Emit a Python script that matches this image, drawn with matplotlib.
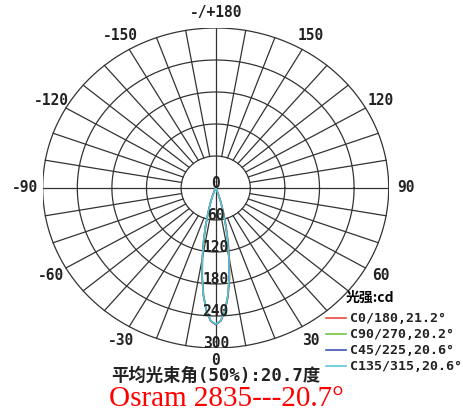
import numpy as np
import matplotlib
matplotlib.use("Agg")
import matplotlib.pyplot as plt

# gamma angles (deg, 0 = straight down) and intensity (cd) per C-plane
angles = [-32, -28, -24, -20, -18, -16, -14, -12, -10, -8, -6, -4, -2, 0,
          2, 4, 6, 8, 10, 12, 14, 16, 18, 20, 24, 28, 32]
c0_180 = [0, 2, 6, 20, 32, 50, 73, 102, 135, 170, 203, 231, 250, 256,
          250, 232, 205, 173, 138, 105, 76, 52, 34, 21, 7, 2, 0]
c90_270 = [0, 1, 5, 16, 28, 44, 67, 96, 130, 166, 201, 230, 249, 256,
           249, 230, 201, 166, 130, 96, 67, 44, 28, 16, 5, 1, 0]
c45_225 = [0, 1, 5, 18, 30, 47, 71, 100, 133, 169, 203, 231, 249, 256,
           249, 231, 203, 169, 133, 100, 71, 47, 30, 18, 5, 1, 0]
c135_315 = [0, 1, 5, 18, 31, 48, 72, 101, 134, 170, 204, 231, 249, 255,
            249, 230, 202, 168, 132, 99, 70, 46, 29, 17, 5, 1, 0]

series = [c0_180, c90_270, c45_225, c135_315]
series_labels = ["C0/180,21.2°", "C90/270,20.2°", "C45/225,20.6°", "C135/315,20.6°"]
series_colors = ["#e84a3c", "#72c448", "#3a55b0", "#5cc8d4"]

ring_values = [0, 60, 120, 180, 240, 300]
angle_ticks = [180, 150, 120, 90, 60, 30, 0, -30, -60, -90, -120, -150]
angle_labels = ["-/+180", "150", "120", "90", "60", "30", "0",
                "-30", "-60", "-90", "-120", "-150"]

R = 300
grid_c = "#333333"
mono = "DejaVu Sans Mono"

fig = plt.figure(figsize=(4.64, 4.16), dpi=100)
fig.patch.set_facecolor("white")
ax = fig.add_axes([42.7 / 464, 68 / 416, 346 / 464, 320 / 416])
ax.set_xlim(-R, R)
ax.set_ylim(-R, R)
ax.set_aspect("auto")
ax.axis("off")

# rings
t = np.linspace(0, 2 * np.pi, 400)
for rv in ring_values[1:]:
    ax.plot(rv * np.cos(t), rv * np.sin(t), color=grid_c, lw=0.9)

# spokes every 10 degrees; the four main axes go through the centre
for a in range(0, 360, 10):
    th = np.deg2rad(a)
    r0 = 0 if a % 90 == 0 else ring_values[1]
    ax.plot([r0 * np.sin(th), R * np.sin(th)], [-r0 * np.cos(th), -R * np.cos(th)],
            color=grid_c, lw=0.9)

# radial value labels going down
for rv in ring_values:
    ax.text(0, -rv + 9, str(rv), ha="center", va="center", family=mono,
            fontweight="bold", fontsize=10.5, color="#222222", zorder=5)

# angle labels
for a, lab in zip(angle_ticks, angle_labels):
    th = np.deg2rad(a)
    rr = 330
    ax.text(rr * np.sin(th), -rr * np.cos(th) + (6 if a == 0 else 0), lab,
            ha="center", va="center", family=mono, fontweight="bold",
            fontsize=10.5, color="#222222", clip_on=False)

# intensity curves
for vals, col, lab in zip(series, series_colors, series_labels):
    th = np.deg2rad(angles)
    v = np.array(vals)
    ax.plot(v * np.sin(th), -v * np.cos(th), color=col, lw=1.1, label=lab, zorder=4)

# legend
fig.text(370 / 464, 1 - 298 / 416, "光强:cd", ha="center", va="center",
         family=["Noto Sans CJK SC", mono], fontweight="bold", fontsize=10)
for i, (col, lab) in enumerate(zip(series_colors, series_labels)):
    y = 1 - (318 + 16 * i) / 416
    fig.add_artist(plt.Line2D([326 / 464, 346 / 464], [y, y], color=col, lw=1.2))
    fig.text(350 / 464, y, lab, ha="left", va="center", family=mono,
             fontweight="bold", fontsize=9.5, color="#222222")

fig.text(216 / 464, 1 - 376 / 416, "平均光束角(50%):20.7度", ha="center", va="center",
         family=[mono, "Noto Sans CJK SC"], fontweight="bold", fontsize=12.5,
         color="#222222")
fig.text(226 / 464, 1 - 399 / 416, "Osram 2835---20.7°", ha="center", va="center",
         family="Liberation Serif", fontsize=21, color="#ff0000")

fig.savefig("out.png", dpi=100, facecolor="white")
